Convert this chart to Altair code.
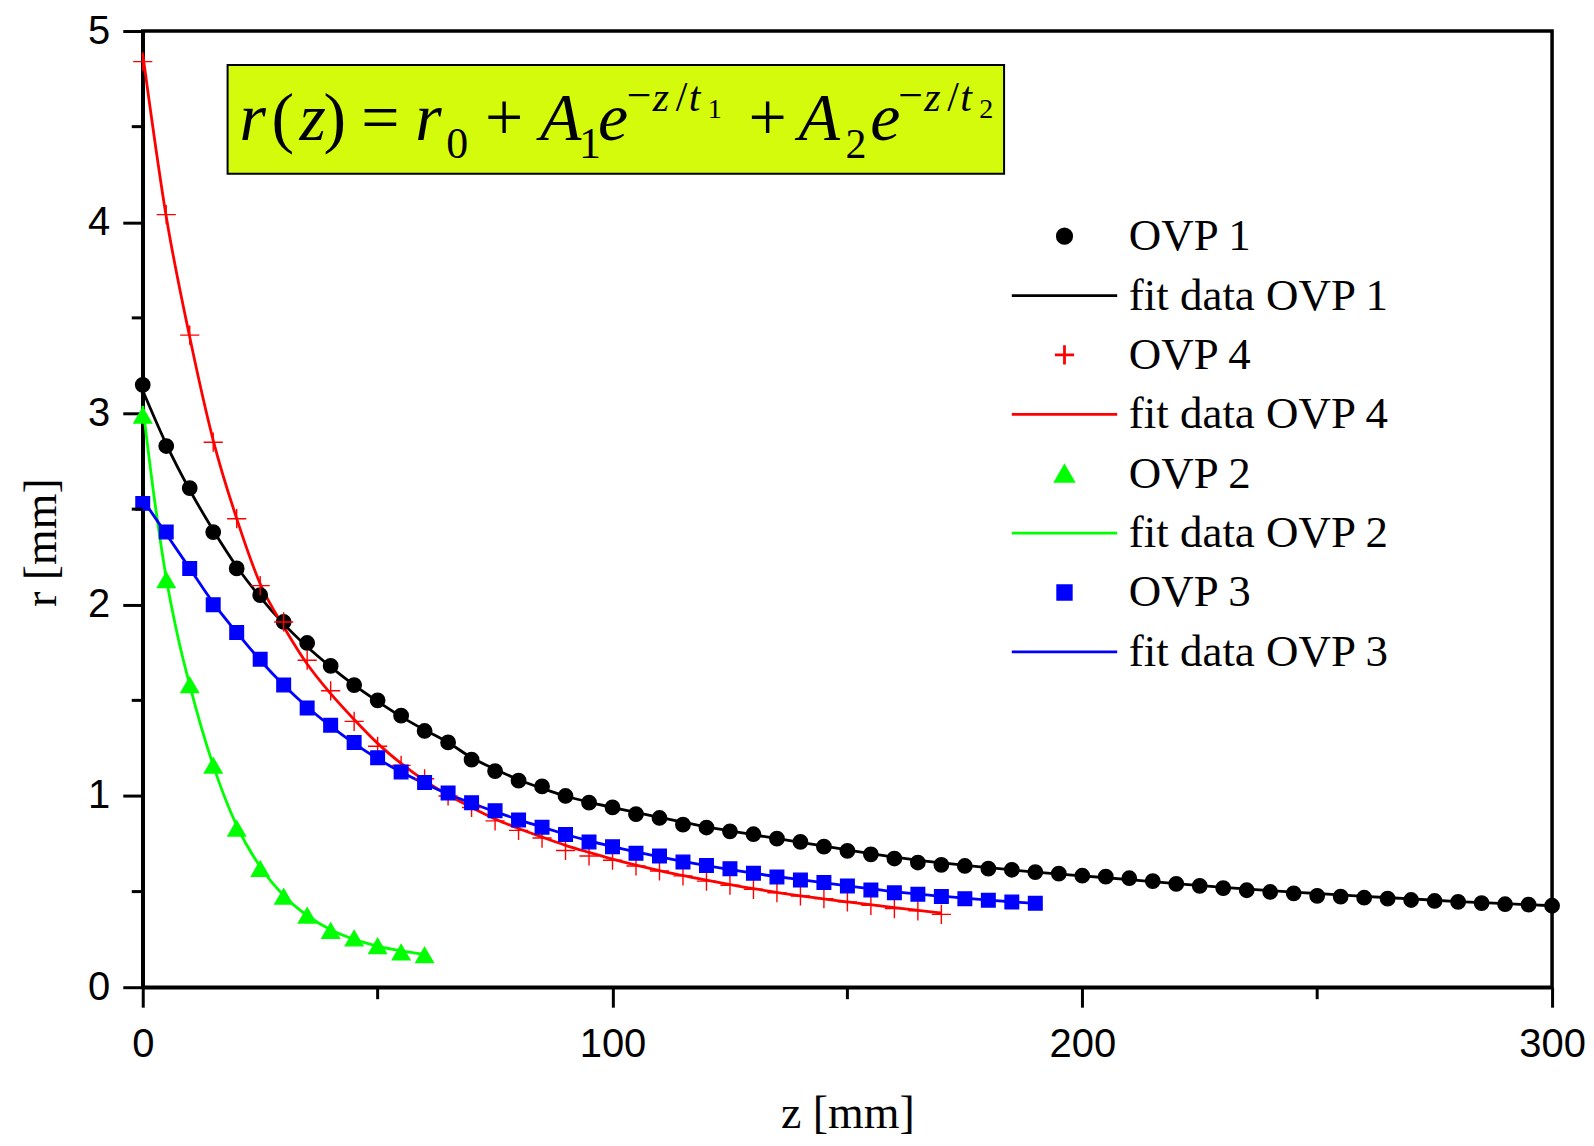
import altair as alt
import pandas as pd

# ---------------- data ----------------
z_ovp1 = list(range(0, 305, 5))
r_ovp1 = [3.15, 2.83, 2.61, 2.38, 2.19, 2.05, 1.91, 1.80, 1.68, 1.58,
          1.50, 1.42, 1.34, 1.28, 1.19, 1.13, 1.08, 1.05, 1.00, 0.965,
          0.94, 0.905, 0.885, 0.85, 0.835, 0.815, 0.80, 0.777, 0.76, 0.735,
          0.713, 0.695, 0.673, 0.652, 0.64, 0.634, 0.62, 0.614, 0.602, 0.594,
          0.583, 0.578, 0.57, 0.555, 0.54, 0.53, 0.518, 0.507, 0.498, 0.491,
          0.478, 0.474, 0.468, 0.463, 0.456, 0.451, 0.446, 0.44, 0.434, 0.432,
          0.426]

z_ovp4 = list(range(0, 175, 5))
r_ovp4 = [4.84, 4.04, 3.41, 2.85, 2.45, 2.10, 1.91, 1.71, 1.55, 1.39,
          1.26, 1.16, 1.09, 1.00, 0.94, 0.87, 0.82, 0.78, 0.715, 0.686,
          0.664, 0.634, 0.608, 0.582, 0.555, 0.533, 0.512, 0.494, 0.477, 0.463,
          0.446, 0.428, 0.411, 0.399, 0.381]

z_ovp2 = list(range(0, 65, 5))
r_ovp2 = [2.99, 2.13, 1.58, 1.16, 0.83, 0.62, 0.475, 0.375, 0.296, 0.256,
          0.216, 0.183, 0.168]

z_ovp3 = list(range(0, 195, 5))
r_ovp3 = [2.53, 2.38, 2.19, 2.00, 1.855, 1.715, 1.58, 1.46, 1.37, 1.28,
          1.20, 1.125, 1.07, 1.015, 0.965, 0.923, 0.874, 0.837, 0.798, 0.759,
          0.735, 0.70, 0.686, 0.655, 0.637, 0.62, 0.596, 0.576, 0.561, 0.547,
          0.529, 0.508, 0.494, 0.486, 0.474, 0.463, 0.455, 0.446, 0.439]

# fitted curves
zf_ovp1 = [0, 5, 10, 15, 20, 25, 30, 35, 40, 45, 50, 55, 60, 65, 70, 75, 80, 85, 90, 95,
           100, 110, 120, 130, 140, 150, 160, 170, 180, 190, 200, 210, 220, 230, 240,
           250, 260, 270, 280, 290, 300]
rf_ovp1 = [3.12, 2.84, 2.60, 2.39, 2.20, 2.04, 1.90, 1.78, 1.675, 1.58, 1.495, 1.415,
           1.345, 1.28, 1.20, 1.14, 1.085, 1.04, 1.0, 0.968, 0.94, 0.888, 0.838, 0.797,
           0.758, 0.718, 0.68, 0.65, 0.625, 0.602, 0.582, 0.563, 0.542, 0.522, 0.505,
           0.49, 0.475, 0.462, 0.448, 0.437, 0.426]

zf_ovp4 = [0, 5, 10, 15, 20, 25, 30, 35, 40, 45, 50, 55, 60, 65, 70, 75, 80, 85, 90, 95,
           100, 110, 120, 130, 140, 150, 160, 170]
rf_ovp4 = [4.88, 4.03, 3.40, 2.86, 2.45, 2.11, 1.885, 1.69, 1.535, 1.40, 1.275, 1.17,
           1.08, 1.005, 0.94, 0.88, 0.83, 0.785, 0.742, 0.705, 0.67, 0.61, 0.56, 0.515,
           0.478, 0.446, 0.416, 0.388]

zf_ovp2 = [0, 2.5, 5, 7.5, 10, 15, 20, 25, 30, 35, 40, 45, 50, 55, 60]
rf_ovp2 = [3.04, 2.55, 2.14, 1.83, 1.58, 1.16, 0.845, 0.63, 0.48, 0.375, 0.30, 0.25,
           0.215, 0.19, 0.172]

zf_ovp3 = [0, 5, 10, 15, 20, 25, 30, 35, 40, 45, 50, 55, 60, 65, 70, 75, 80, 85, 90, 95,
           100, 110, 120, 130, 140, 150, 160, 170, 180, 190]
rf_ovp3 = [2.55, 2.37, 2.19, 2.01, 1.855, 1.71, 1.58, 1.465, 1.365, 1.275, 1.195, 1.125,
           1.065, 1.01, 0.962, 0.918, 0.876, 0.837, 0.80, 0.765, 0.735, 0.682, 0.636,
           0.596, 0.562, 0.53, 0.50, 0.476, 0.455, 0.438]

series_order = ["OVP 1", "fit data OVP 1", "OVP 4", "fit data OVP 4",
                "OVP 2", "fit data OVP 2", "OVP 3", "fit data OVP 3"]

x_ticks = [0, 100, 200, 300]
x_minor = [50, 150, 250]
y_ticks = [0, 1, 2, 3, 4, 5]
y_minor = [0.5, 1.5, 2.5, 3.5, 4.5]

# formula annotation (pieces of the equation)
f_text = ["r", "(", "z", ")", "=", "r", "0", "+", "A", "1", "e", "\u2212", "z", "/", "t", "1",
          "+", "A", "2", "e", "\u2212", "z", "/", "t", "2"]
f_ital = [True, False, True, False, False, True, False, False, True, False, True, False, True,
          False, True, False, False, True, False, True, False, True, False, True, False]

# ---------------- styles / layout ----------------
W, H = 1412, 958
XMAX, YMAX = 300.0, 5.0
BLACK, RED, GREEN, BLUE = "#000000", "#ff0000", "#00ff00", "#0000ff"
LINE_W = 2.8
LINE = "M-6.6,0H6.6"
CROSS = "M-1.2,0H1.2M0,-1.2V1.2"
TRI = "M0,-0.95L1.1,0.95L-1.1,0.95Z"
SQUARE = "M-0.85,-0.85H0.85V0.85H-0.85Z"
CIRCLE = "M-0.9,0A0.9,0.9,0,1,1,0.9,0A0.9,0.9,0,1,1,-0.9,0Z"

fill_range = [BLACK, "transparent", "transparent", "transparent", GREEN, "transparent", BLUE, "transparent"]
stroke_range = [BLACK, BLACK, RED, RED, GREEN, GREEN, BLUE, BLUE]
shape_range = [CIRCLE, LINE, CROSS, LINE, TRI, LINE, SQUARE, LINE]

# formula piece placement (pixels inside the plot area) and sizes
f_px = [97, 129, 157, 181, 219, 273, 304, 343, 398, 437, 456, 485, 511, 534, 547, 566,
        607, 657, 704, 729, 757, 783, 806, 819, 838]
f_py = [109, 109, 109, 109, 109, 109, 127, 109, 109, 127, 109, 79, 80, 80, 80, 87,
        109, 109, 127, 109, 79, 80, 80, 80, 87]
f_size = [68, 68, 68, 68, 68, 68, 44, 68, 68, 44, 68, 44, 42, 42, 42, 28,
          68, 68, 42, 68, 44, 42, 42, 42, 28]

box_x, box_x2, box_y, box_y2 = 18.06, 183.35, 4.823, 4.254
BOX_FILL = "#d4fb0b"

# ---------------- tables ----------------
pts = pd.concat([
    pd.DataFrame({"z": z_ovp1, "r": r_ovp1, "series": "OVP 1"}),
    pd.DataFrame({"z": z_ovp4, "r": r_ovp4, "series": "OVP 4"}),
    pd.DataFrame({"z": z_ovp2, "r": r_ovp2, "series": "OVP 2"}),
    pd.DataFrame({"z": z_ovp3, "r": r_ovp3, "series": "OVP 3"}),
], ignore_index=True)

fits = pd.concat([
    pd.DataFrame({"z": zf_ovp1, "r": rf_ovp1, "series": "fit data OVP 1"}),
    pd.DataFrame({"z": zf_ovp4, "r": rf_ovp4, "series": "fit data OVP 4"}),
    pd.DataFrame({"z": zf_ovp2, "r": rf_ovp2, "series": "fit data OVP 2"}),
    pd.DataFrame({"z": zf_ovp3, "r": rf_ovp3, "series": "fit data OVP 3"}),
], ignore_index=True)

formula = pd.DataFrame({
    "t": f_text,
    "x": [p * XMAX / W for p in f_px],
    "y": [YMAX - p * YMAX / H for p in f_py],
    "s": f_size,
    "ital": f_ital,
})

xs = alt.Scale(domain=[0, XMAX], nice=False, zero=False)
ys = alt.Scale(domain=[0, YMAX], nice=False, zero=False)

leg = alt.Legend(orient="none", legendX=901, legendY=183, title=None,
                 labelFont="Liberation Serif", labelFontSize=45, labelColor="black",
                 labelOffset=42, symbolSize=256, symbolStrokeWidth=LINE_W,
                 rowPadding=13.5, labelLimit=600, padding=0)

x_enc = alt.X("z:Q", scale=xs,
              axis=alt.Axis(values=x_ticks, title="z [mm]", labelFlush=False, format="d",
                            labelPadding=17, titleY=141, titleBaseline="alphabetic"))
y_enc = alt.Y("r:Q", scale=ys,
              axis=alt.Axis(values=y_ticks, title="r [mm]", labelPadding=13, format="d",
                            titleX=-101, titleY=512, titleBaseline="middle", titleAngle=-90))

lines = alt.Chart(fits).mark_line(interpolate="monotone", strokeWidth=LINE_W).encode(
    x=x_enc, y=y_enc,
    stroke=alt.Stroke("series:N", scale=alt.Scale(domain=series_order, range=stroke_range), legend=leg),
)

points = alt.Chart(pts).mark_point(size=256, opacity=1, filled=False, strokeWidth=1.4).encode(
    x=x_enc, y=y_enc,
    fill=alt.Fill("series:N", scale=alt.Scale(domain=series_order, range=fill_range), legend=leg),
    stroke=alt.Stroke("series:N", scale=alt.Scale(domain=series_order, range=stroke_range), legend=leg),
    shape=alt.Shape("series:N", scale=alt.Scale(domain=series_order, range=shape_range), legend=leg),
)

box = alt.Chart(pd.DataFrame({"x": [box_x], "x2": [box_x2], "y": [box_y], "y2": [box_y2]})).mark_rect(
    fill=BOX_FILL, stroke="black", strokeWidth=2
).encode(x=alt.X("x:Q", scale=xs), x2="x2:Q", y=alt.Y("y:Q", scale=ys), y2="y2:Q")

f_it = alt.Chart(formula[formula["ital"]]).mark_text(
    font="Liberation Serif", fontStyle="italic", align="left", baseline="alphabetic", color="black"
).encode(x=alt.X("x:Q", scale=xs), y=alt.Y("y:Q", scale=ys), text="t:N",
         size=alt.Size("s:Q", scale=None, legend=None))

f_rm = alt.Chart(formula[~formula["ital"]]).mark_text(
    font="Liberation Serif", align="left", baseline="alphabetic", color="black"
).encode(x=alt.X("x:Q", scale=xs), y=alt.Y("y:Q", scale=ys), text="t:N",
         size=alt.Size("s:Q", scale=None, legend=None))

xminor = alt.Chart(pd.DataFrame({"v": x_minor})).mark_rule(color="black", strokeWidth=3).encode(
    x=alt.X("v:Q", scale=xs), y=alt.value(H), y2=alt.value(H + 12))
yminor = alt.Chart(pd.DataFrame({"v": y_minor})).mark_rule(color="black", strokeWidth=3).encode(
    y=alt.Y("v:Q", scale=ys), x=alt.value(-11), x2=alt.value(0))

chart = alt.layer(lines, points, box, f_it, f_rm, xminor, yminor).properties(
    width=W, height=H,
    autosize=alt.AutoSizeParams(type="none"),
    padding={"left": 135, "top": 22, "right": 34, "bottom": 150},
).configure_view(
    stroke="black", strokeWidth=3.5
).configure_axis(
    domainColor="black", domainWidth=3.5, tickColor="black", tickWidth=3, tickSize=20,
    labelFont="Liberation Sans", labelFontSize=40, labelColor="black",
    titleFont="Liberation Serif", titleFontSize=46, titleFontWeight="normal", titleColor="black",
    grid=False
)

chart.save("out.html", embed_options={"renderer": "svg", "actions": False})
